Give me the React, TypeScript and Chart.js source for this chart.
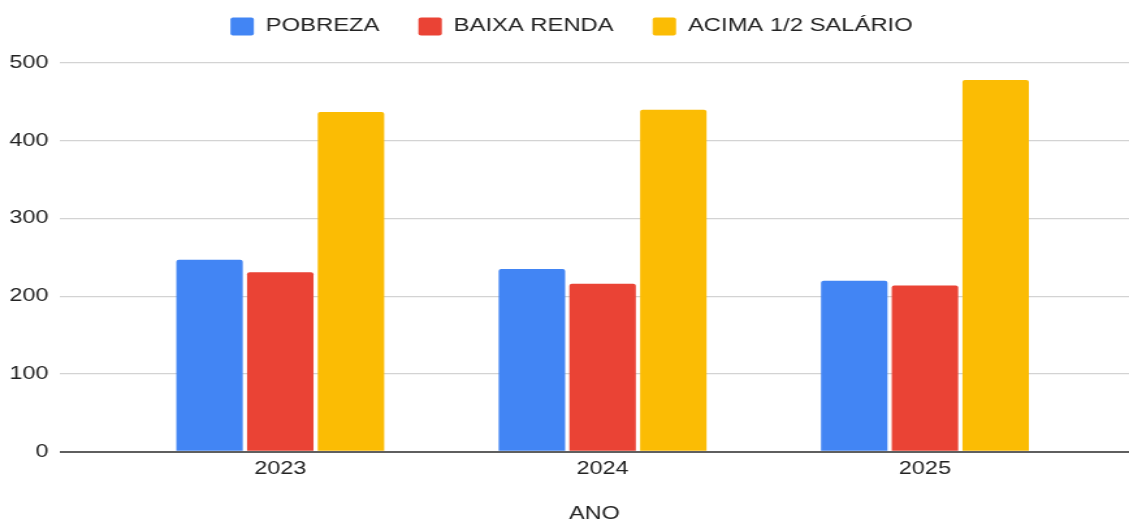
import React, { useEffect, useRef } from 'react';
import { Chart, registerables } from 'chart.js';

Chart.register(...registerables);

// ---- data ----
const anos = ['2023', '2024', '2025'];
const pobreza = [247, 235, 220];
const baixaRenda = [231, 216, 214];
const acimaMeioSalario = [437, 440, 478];
const yTicks = [0, 100, 200, 300, 400, 500];

const seriesNames = ['POBREZA', 'BAIXA RENDA', 'ACIMA 1/2 SALÁRIO'];
const seriesColors = ['#4285F4', '#EA4335', '#FBBC04'];

const INNER_W = 868;
const STRETCH = 1129 / INNER_W;
const FONT = "'Liberation Sans', Arial, sans-serif";
const LEGEND_SHIFT = 5.4;

export default function App() {
  const ref = useRef<HTMLCanvasElement>(null);

  useEffect(() => {
    const legendSpacer = {
      id: 'legendSpacer',
      beforeInit(chart: any) {
        const l = chart.legend;
        if (!l) return;
        const origFit = l.fit;
        l.fit = function () {
          origFit.call(this);
          this.height += 17.4;
        };
        const origDraw = l.draw;
        l.draw = function () {
          const ctx = this.ctx;
          ctx.save();
          ctx.translate(LEGEND_SHIFT, 0);
          origDraw.call(this);
          ctx.restore();
        };
      },
    };

    const series = [pobreza, baixaRenda, acimaMeioSalario];
    const chart = new Chart(ref.current as HTMLCanvasElement, {
      type: 'bar',
      data: {
        datasets: series.map((vals, s) => ({
          label: seriesNames[s],
          data: vals.map((v, i) => ({ x: i, y: v })),
          backgroundColor: seriesColors[s],
          borderWidth: 0,
          borderRadius: 2,
          categoryPercentage: 0.658,
          barPercentage: 0.94,
        })),
      },
      options: {
        animation: false,
        responsive: true,
        maintainAspectRatio: false,
        layout: { padding: { top: -12.7, left: 0, right: 0, bottom: -3 } },
        plugins: {
          legend: {
            position: 'top',
            labels: {
              boxWidth: 18,
              boxHeight: 18,
              padding: 30,
              color: '#222',
              font: { family: FONT, size: 18.3 },
              useBorderRadius: true,
              borderRadius: 2,
            },
          },
          tooltip: { enabled: false },
        },
        scales: {
          x: {
            type: 'linear',
            offset: false,
            min: -0.683,
            max: 2.633,
            afterBuildTicks: (scale: any) => {
              scale.ticks = anos.map((_, i) => ({ value: i }));
            },
            grid: { display: false, drawTicks: false },
            border: { display: false },
            ticks: {
              padding: 6,
              color: '#222',
              font: { family: FONT, size: 18 },
              autoSkip: false,
              maxRotation: 0,
              callback: (v: any) => anos[v as number] ?? '',
            },
            title: {
              display: true,
              text: 'ANO',
              color: '#222',
              font: { family: FONT, size: 18 },
              padding: { top: 18, bottom: 0 },
            },
          },
          y: {
            min: 0,
            max: 500,
            afterBuildTicks: (scale: any) => {
              scale.ticks = yTicks.map((v) => ({ value: v }));
            },
            afterFit: (scale: any) => {
              scale.width = 46.2;
            },
            grid: {
              drawTicks: false,
              color: (ctx: any) => (ctx.tick && ctx.tick.value === 0 ? '#5f5f5f' : '#d3d3d3'),
              lineWidth: (ctx: any) => (ctx.tick && ctx.tick.value === 0 ? 2 : 1.2),
            },
            border: { display: false },
            ticks: {
              padding: 9,
              color: '#222',
              font: { family: FONT, size: 18 },
            },
          },
        },
      },
      plugins: [legendSpacer],
    } as any);

    return () => chart.destroy();
  }, []);

  return (
    <div
      style={{
        position: 'absolute',
        left: 0,
        top: 0,
        width: 1129,
        height: 522,
        overflow: 'hidden',
        background: '#fff',
      }}
    >
      <div
        style={{
          position: 'relative',
          width: INNER_W,
          height: 522,
          transform: `scaleX(${STRETCH})`,
          transformOrigin: '0 0',
        }}
      >
        <canvas ref={ref} />
      </div>
    </div>
  );
}
